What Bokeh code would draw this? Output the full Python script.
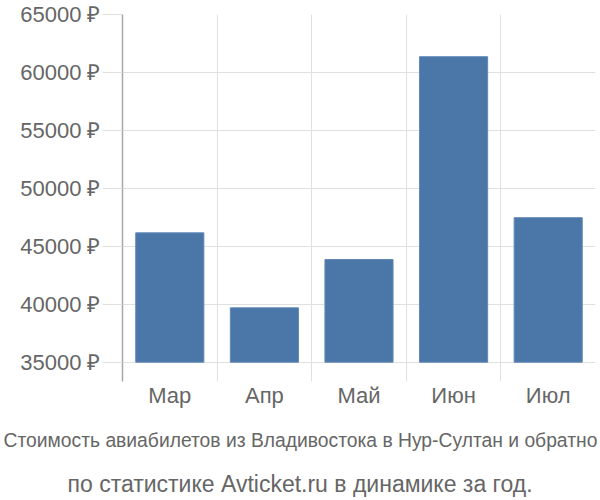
import numpy as np
from bokeh.plotting import figure
from bokeh.models import Range1d, FixedTicker, PrintfTickFormatter, Title
from bokeh.embed import file_html
from bokeh.resources import INLINE

categories = ["Мар", "Апр", "Май", "Июн", "Июл"]
prices = [46160, 39690, 43860, 61360, 47470]
y_ticks = [35000, 40000, 45000, 50000, 55000, 60000, 65000]
title_line1 = "Стоимость авиабилетов из Владивостока в Нур-Султан и обратно"
title_line2 = "по статистике Avticket.ru в динамике за год."

n = len(categories)
centers = (np.arange(n) + 0.5).tolist()
boundaries = list(range(n + 1))

W, H = 600, 500
left, right, top, bottom = 122, 5, 14, 119

p = figure(width=W, height=H, output_backend="svg", toolbar_location=None,
           x_range=Range1d(0, n), y_range=Range1d(33335, 65000),
           min_border_left=left, min_border_right=right, min_border_top=top,
           min_border_bottom=bottom)
p.frame_width = W - left - right
p.frame_height = H - top - bottom
p.outline_line_color = None
p.background_fill_color = "white"

p.vbar(x=centers, top=prices, bottom=y_ticks[0], width=0.72,
       fill_color="#4a76a8", line_color="#6189b6", line_width=1)

label_color = "#666666"
font = "Liberation Sans"

# x axis
xa = p.xaxis[0]
xa.ticker = FixedTicker(ticks=centers)
xa.major_label_overrides = {c: lab for c, lab in zip(centers, categories)}
xa.axis_line_color = None
xa.major_tick_line_color = None
xa.minor_tick_line_color = None
xa.major_label_text_font = font
xa.major_label_text_font_size = "22px"
xa.major_label_text_color = label_color
xa.major_label_standoff = -5

# y axis
ya = p.yaxis[0]
ya.ticker = FixedTicker(ticks=y_ticks)
ya.formatter = PrintfTickFormatter(format="%d ₽")
ya.axis_line_color = "#a8a8a8"
ya.axis_line_width = 1.5
ya.major_tick_line_color = "#e0e0e0"
ya.major_tick_out = 20
ya.major_tick_in = 0
ya.minor_tick_line_color = None
ya.major_label_standoff = 2
ya.major_label_text_font = font
ya.major_label_text_font_size = "22px"
ya.major_label_text_color = label_color

# grids
p.xgrid.ticker = FixedTicker(ticks=boundaries)
p.xgrid.grid_line_color = "#e0e0e0"
p.ygrid.ticker = FixedTicker(ticks=y_ticks)
p.ygrid.grid_line_color = "#e0e0e0"

# caption: left-aligned titles shifted so that each line is centred on the canvas
t1 = Title(text=title_line1, align="left", text_font=font,
           text_font_size="19.3px", text_color=label_color, text_font_style="normal",
           standoff=35, offset=-119)
t2 = Title(text=title_line2, align="left", text_font=font,
           text_font_size="23px", text_color=label_color, text_font_style="normal",
           standoff=0, offset=-55)
p.add_layout(t1, "below")
p.add_layout(t2, "below")

open("out.html", "w").write(file_html(p, INLINE))
